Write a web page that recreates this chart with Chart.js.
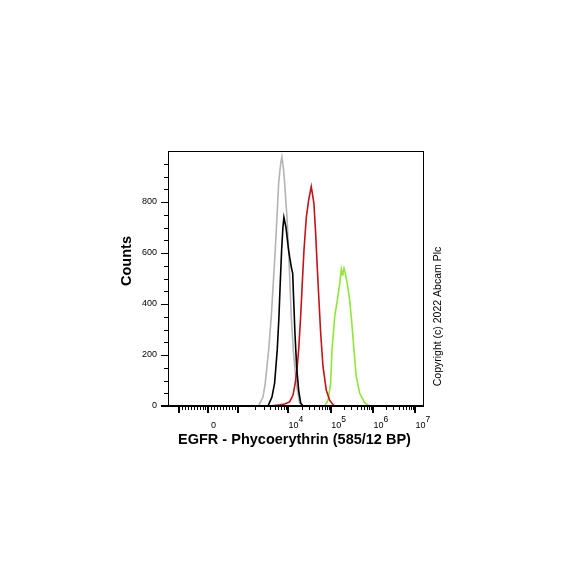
<!DOCTYPE html>
<html>
<head>
<meta charset="utf-8">
<script src="https://cdn.jsdelivr.net/npm/chart.js@4.4.1/dist/chart.umd.min.js"></script>
<style>html,body{margin:0;background:#fff}</style>
</head>
<body>
<canvas id="myChart" width="584" height="584"></canvas>
<script>
// histogram outlines, x = PE intensity, y = counts
var grayX = [2300, 2830, 3150, 3700, 4200, 4630, 5100, 5560, 6060, 6700, 7140, 7800, 8220, 9280, 10110, 10830, 11620, 12900, 15080, 18080, 21600];
var grayY = [0, 35, 90, 220, 350, 480, 610, 740, 875, 950, 977, 925, 875, 740, 610, 480, 350, 220, 90, 12, 0];

var blackX = [3580, 4340, 4950, 5640, 6150, 6560, 7040, 7520, 7920, 8810, 10110, 11620, 12510, 13180, 14100, 15400, 17150, 19070, 21600];
var blackY = [0, 35, 90, 220, 350, 480, 610, 700, 740, 700, 610, 545, 520, 415, 285, 155, 62, 12, 0];

var redX = [4000, 6500, 8220, 10660, 12710, 14320, 15900, 17150, 19070, 20780, 22780, 25820, 29370, 33720, 38940, 42680, 46620, 51100, 56150, 63700, 76200, 91700, 107000, 120500];
var redY = [0, 5, 8, 16, 43, 90, 155, 220, 350, 480, 610, 740, 808, 860, 795, 680, 545, 415, 285, 155, 62, 23, 8, 0];

var greenX = [69860, 83600, 96800, 103900, 120500, 138900, 158400, 172700, 181000, 189500, 200000, 214800, 239600, 273200, 298000, 345300, 391500, 472900, 621600, 816000];
var greenY = [0, 23, 90, 220, 350, 415, 480, 535, 515, 525, 540, 520, 480, 415, 350, 220, 115, 50, 12, 0];

var yLabels = [0, 200, 400, 600, 800];
var xLabels = [0, 1e4, 1e5, 1e6, 1e7];
var xMajor = [-1000, 0, 1000, 1e4, 1e5, 1e6, 1e7];

// biexponential-like display: linear around zero, log above 1000
function biex(v) {
    if (v <= 1000) return v / 1000 * 0.702;
    return 0.702 + Math.log10(v / 1000) + 0.224 * (1 - 1000 / v);
}

class BiexScale extends Chart.LinearScale {
    getPixelForValue(value) {
        var a = biex(this.min), b = biex(this.max);
        return this.getPixelForDecimal((biex(value) - a) / (b - a));
    }
    getValueForPixel(pixel) {
        var a = biex(this.min), b = biex(this.max);
        var t = a + this.getDecimalForPixel(pixel) * (b - a);
        var lo = this.min, hi = this.max;
        for (var i = 0; i < 60; i++) {
            var m = (lo + hi) / 2;
            if (biex(m) < t) lo = m; else hi = m;
        }
        return lo;
    }
}
BiexScale.id = 'biex';
BiexScale.defaults = {};
Chart.register(BiexScale);

function pts(xs, ys) {
    return xs.map(function(x, i){ return {x: x, y: ys[i]}; });
}

var FONT = '"Liberation Sans", Arial, sans-serif';

var axisDecor = {
    id: 'axisDecor',
    afterDraw: function(chart) {
        var ctx = chart.ctx, ca = chart.chartArea;
        var xs = chart.scales.x, ys = chart.scales.y;
        ctx.save();
        ctx.strokeStyle = '#000';
        ctx.fillStyle = '#000';
        ctx.lineWidth = 1;
        ctx.strokeRect(ca.left + 0.5, ca.top + 0.5, ca.right - ca.left - 1, ca.bottom - ca.top);
        ctx.lineWidth = 2;
        ctx.beginPath();
        ctx.moveTo(ca.left - 7, ca.bottom);
        ctx.lineTo(ca.right, ca.bottom);
        ctx.stroke();

        // y ticks
        ctx.lineWidth = 1;
        ctx.beginPath();
        for (var v = 0; v <= 950; v += 50) {
            var py = Math.round(ys.getPixelForValue(v)) + 0.5;
            var len = (v % 200 === 0) ? 7 : 4;
            ctx.moveTo(ca.left - len, py);
            ctx.lineTo(ca.left, py);
        }
        ctx.stroke();

        // x ticks
        var minor = [];
        for (var k = -900; k <= 900; k += 100) if (k !== 0) minor.push(k);
        [1e3, 1e4, 1e5, 1e6].forEach(function(d){
            for (var m = 2; m <= 9; m++) minor.push(m * d);
        });
        ctx.beginPath();
        minor.forEach(function(val){
            var px = Math.round(xs.getPixelForValue(val)) + 0.5;
            ctx.moveTo(px, ca.bottom);
            ctx.lineTo(px, ca.bottom + 4);
        });
        ctx.stroke();
        ctx.lineWidth = 2;
        ctx.beginPath();
        xMajor.forEach(function(val){
            var px = Math.round(xs.getPixelForValue(val));
            ctx.moveTo(px, ca.bottom);
            ctx.lineTo(px, ca.bottom + 7);
        });
        ctx.stroke();

        // x labels
        xLabels.forEach(function(val){
            var px = xs.getPixelForValue(val);
            ctx.font = '9px ' + FONT;
            ctx.textAlign = 'center';
            if (val === 0) {
                ctx.fillText('0', px + 5, 428);
            } else {
                ctx.fillText('10', px + 5, 428);
                ctx.font = '8.5px ' + FONT;
                ctx.textAlign = 'left';
                ctx.fillText(String(Math.round(Math.log10(val))), px + 10, 422);
            }
        });

        // titles
        ctx.font = 'bold 14.5px ' + FONT;
        ctx.textAlign = 'center';
        ctx.fillText('EGFR - Phycoerythrin (585/12 BP)', 294.5, 444);

        ctx.save();
        ctx.translate(131, 261);
        ctx.rotate(-Math.PI / 2);
        ctx.fillText('Counts', 0, 0);
        ctx.restore();

        ctx.save();
        ctx.translate(441, 316.5);
        ctx.rotate(-Math.PI / 2);
        ctx.font = '10.5px ' + FONT;
        ctx.fillText('Copyright (c) 2022 Abcam Plc', 0, 0);
        ctx.restore();

        ctx.restore();
    }
};

var ctx = document.getElementById('myChart');
var myChart = new Chart(ctx, {
    type: 'scatter',
    data: {
        datasets: [
            {label: 'Isotype control', data: pts(blackX, blackY), borderColor: '#000000', order: 0},
            {label: 'EGFR', data: pts(redX, redY), borderColor: '#c3141a', order: 1},
            {label: 'EGFR (2)', data: pts(greenX, greenY), borderColor: '#8de836', order: 2},
            {label: 'Unlabelled', data: pts(grayX, grayY), borderColor: '#b4b4b4', order: 3}
        ]
    },
    options: {
        responsive: false,
        animation: false,
        showLine: true,
        elements: {
            point: {radius: 0, hoverRadius: 0},
            line: {borderWidth: 1.6, tension: 0, fill: false}
        },
        layout: {
            padding: {left: 0, top: 151, right: 160, bottom: 0}
        },
        scales: {
            x: {
                type: 'biex',
                min: -1370,
                max: 1.6e7,
                grid: {display: false, drawTicks: false},
                border: {display: false},
                ticks: {display: false},
                afterFit: function(s){ s.height = 178; }
            },
            y: {
                type: 'linear',
                min: 0,
                max: 1000,
                grid: {display: false, drawTicks: false},
                border: {display: false},
                ticks: {
                    padding: 11,
                    color: '#000',
                    font: {size: 9, family: FONT}
                },
                afterBuildTicks: function(s){
                    s.ticks = yLabels.map(function(v){ return {value: v}; });
                },
                afterFit: function(s){ s.width = 168; }
            }
        },
        plugins: {
            legend: {display: false},
            tooltip: {enabled: false}
        }
    },
    plugins: [axisDecor]
});
</script>
</body>
</html>
